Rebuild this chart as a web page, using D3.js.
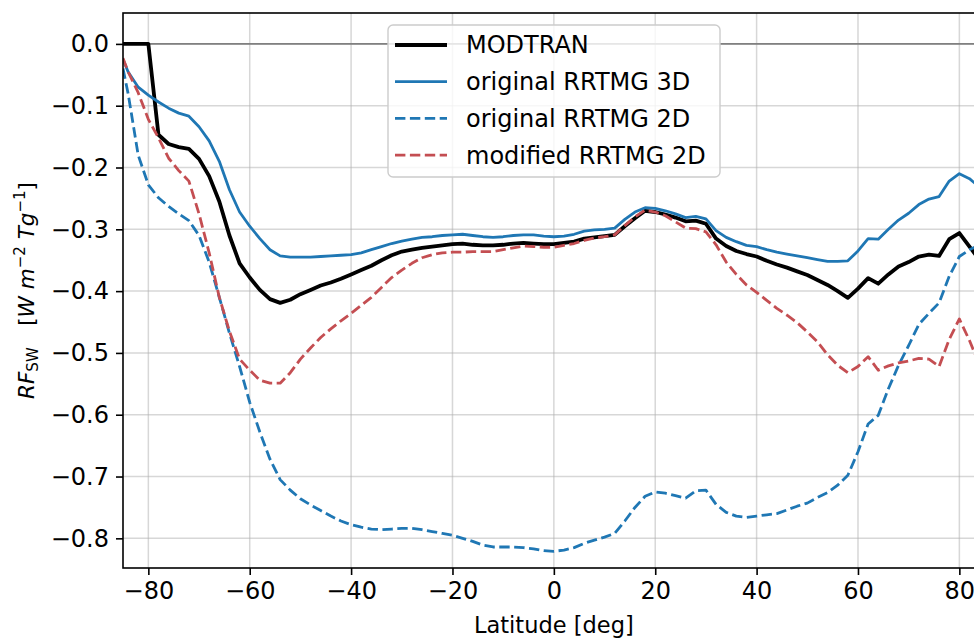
<meta charset="utf-8">
<script src="https://cdn.jsdelivr.net/npm/d3@7"></script>

<style>
    body {
      margin: 0;
      background-color: #ffffff;
      overflow: hidden;
    }
    text {
      font-family: "DejaVu Sans", sans-serif;
      fill: #000;
    }
    .grid line {
      stroke: #b0b0b0;
      stroke-opacity: 0.5;
      stroke-width: 1.5;
    }
</style>

<div id="chart"></div>

<script>
// latitude bins [deg]
var lat = [-85, -84, -82, -80, -78, -76, -74, -72, -70, -68, -66, -64, -62, -60, -58, -56, -54, -52, -50, -48,
  -46, -44, -42, -40, -38, -36, -34, -32, -30, -28, -26, -24, -22, -20, -18, -16, -14, -12, -10, -8,
  -6, -4, -2, 0, 2, 4, 6, 8, 10, 12, 14, 16, 18, 20, 22, 24, 26, 28, 30, 32,
  34, 36, 38, 40, 42, 44, 46, 48, 50, 52, 54, 56, 58, 60, 62, 64, 66, 68, 70, 72,
  74, 76, 78, 80, 82, 84];

var modtran = [0, 0, 0, 0, -0.147, -0.162, -0.167, -0.170, -0.186, -0.214, -0.255, -0.310, -0.355, -0.378, -0.398, -0.413, -0.419, -0.414, -0.405, -0.398,
  -0.391, -0.386, -0.380, -0.373, -0.366, -0.359, -0.350, -0.342, -0.336, -0.333, -0.330, -0.328, -0.326, -0.324, -0.323, -0.325, -0.326, -0.326, -0.325, -0.323,
  -0.322, -0.323, -0.324, -0.324, -0.322, -0.320, -0.315, -0.313, -0.311, -0.309, -0.295, -0.282, -0.270, -0.272, -0.276, -0.281, -0.287, -0.286, -0.291, -0.315,
  -0.327, -0.335, -0.340, -0.344, -0.351, -0.357, -0.362, -0.368, -0.374, -0.382, -0.390, -0.400, -0.411, -0.396, -0.379, -0.388, -0.373, -0.360, -0.353, -0.344,
  -0.341, -0.343, -0.316, -0.306, -0.328, -0.350];

var rrtmg3d = [-0.025, -0.045, -0.070, -0.083, -0.094, -0.104, -0.112, -0.117, -0.134, -0.157, -0.190, -0.236, -0.272, -0.295, -0.315, -0.333, -0.343, -0.345, -0.345, -0.345,
  -0.344, -0.343, -0.342, -0.341, -0.338, -0.333, -0.328, -0.323, -0.319, -0.316, -0.313, -0.312, -0.310, -0.309, -0.308, -0.310, -0.312, -0.313, -0.312, -0.310,
  -0.309, -0.309, -0.311, -0.312, -0.311, -0.308, -0.303, -0.301, -0.300, -0.298, -0.284, -0.272, -0.265, -0.266, -0.270, -0.275, -0.281, -0.279, -0.283, -0.302,
  -0.313, -0.320, -0.326, -0.328, -0.333, -0.337, -0.340, -0.343, -0.346, -0.349, -0.352, -0.352, -0.351, -0.335, -0.315, -0.316, -0.300, -0.285, -0.274, -0.260,
  -0.251, -0.247, -0.222, -0.210, -0.218, -0.232];

var rrtmg2d = [-0.040, -0.080, -0.180, -0.228, -0.249, -0.263, -0.275, -0.286, -0.310, -0.353, -0.410, -0.468, -0.522, -0.580, -0.628, -0.672, -0.705, -0.722, -0.736, -0.746,
  -0.755, -0.764, -0.772, -0.778, -0.782, -0.785, -0.786, -0.785, -0.784, -0.784, -0.786, -0.789, -0.792, -0.795, -0.800, -0.805, -0.811, -0.814, -0.814, -0.814,
  -0.815, -0.817, -0.820, -0.821, -0.819, -0.815, -0.808, -0.803, -0.798, -0.792, -0.772, -0.750, -0.732, -0.725, -0.727, -0.731, -0.735, -0.723, -0.722, -0.745,
  -0.758, -0.764, -0.766, -0.764, -0.762, -0.760, -0.754, -0.748, -0.743, -0.734, -0.726, -0.714, -0.698, -0.660, -0.615, -0.601, -0.558, -0.520, -0.488, -0.454,
  -0.436, -0.419, -0.376, -0.344, -0.333, -0.325];

var modified2d = [-0.023, -0.045, -0.079, -0.122, -0.152, -0.185, -0.205, -0.222, -0.275, -0.338, -0.410, -0.465, -0.510, -0.528, -0.544, -0.549, -0.549, -0.532, -0.510, -0.492,
  -0.475, -0.461, -0.448, -0.436, -0.423, -0.410, -0.394, -0.378, -0.366, -0.355, -0.346, -0.341, -0.338, -0.337, -0.337, -0.336, -0.336, -0.336, -0.333, -0.330,
  -0.327, -0.328, -0.329, -0.329, -0.326, -0.323, -0.318, -0.314, -0.312, -0.309, -0.294, -0.280, -0.269, -0.272, -0.278, -0.288, -0.298, -0.299, -0.304, -0.325,
  -0.353, -0.373, -0.390, -0.402, -0.415, -0.428, -0.439, -0.451, -0.466, -0.482, -0.503, -0.520, -0.532, -0.522, -0.506, -0.528, -0.521, -0.516, -0.513, -0.509,
  -0.510, -0.522, -0.478, -0.445, -0.480, -0.520];

var seriesNames = ["MODTRAN", "original RRTMG 3D", "original RRTMG 2D", "modified RRTMG 2D"];
var xTicks = [-80, -60, -40, -20, 0, 20, 40, 60, 80];
var yTicks = [0.0, -0.1, -0.2, -0.3, -0.4, -0.5, -0.6, -0.7, -0.8];

var series = [
  {name: seriesNames[0], values: modtran,    color: "#000000", width: 3.8, dash: null},
  {name: seriesNames[1], values: rrtmg3d,    color: "#1f77b4", width: 2.8, dash: null},
  {name: seriesNames[2], values: rrtmg2d,    color: "#1f77b4", width: 2.8, dash: "10.4,4.5"},
  {name: seriesNames[3], values: modified2d, color: "#c44e52", width: 2.8, dash: "10.4,4.5"}
];

// the axes run past the right border of the picture (xlim -85..85)
var margin = {top: 13, left: 123},
    width = 861.7,
    height = 555;

var svg = d3.select("#chart")
  .append("svg")
    .attr("width", 974)
    .attr("height", 639);

var g = svg.append("g")
    .attr("transform", "translate(" + margin.left + "," + margin.top + ")");

var x = d3.scaleLinear().domain([-85, 85]).range([0, width]);
var y = d3.scaleLinear().domain([-0.848, 0.050]).range([height, 0]);

svg.append("defs").append("clipPath").attr("id", "plotclip")
  .append("rect").attr("width", width).attr("height", height);

// grid
g.append("g").attr("class", "grid")
  .selectAll("line").data(xTicks).enter().append("line")
    .attr("x1", d => x(d)).attr("x2", d => x(d))
    .attr("y1", 0).attr("y2", height);

g.append("g").attr("class", "grid")
  .selectAll("line").data(yTicks).enter().append("line")
    .attr("y1", d => y(d)).attr("y2", d => y(d))
    .attr("x1", 0).attr("x2", width);

// zero line
g.append("line")
  .attr("x1", 0).attr("x2", width)
  .attr("y1", y(0)).attr("y2", y(0))
  .attr("stroke", "#808080")
  .attr("stroke-width", 1.6);

var line = d3.line()
  .x((d, i) => x(lat[i]))
  .y(d => y(d));

g.append("g").attr("clip-path", "url(#plotclip)")
  .selectAll("path").data(series).enter().append("path")
    .attr("d", d => line(d.values))
    .attr("fill", "none")
    .attr("stroke", d => d.color)
    .attr("stroke-width", d => d.width)
    .attr("stroke-dasharray", d => d.dash)
    .attr("stroke-linejoin", "round");

// axes
var xAxis = g.append("g")
  .attr("transform", "translate(0," + height + ")")
  .call(d3.axisBottom(x).tickValues(xTicks).tickSize(7).tickPadding(7).tickFormat(d3.format("d")));

var yAxis = g.append("g")
  .call(d3.axisLeft(y).tickValues(yTicks).tickSize(7).tickPadding(7).tickFormat(d3.format(".1f")));

[xAxis, yAxis].forEach(function(a) {
  a.select(".domain").remove();
  a.selectAll(".tick line").attr("stroke", "#000").attr("stroke-width", 1.6);
  a.selectAll("text").attr("font-size", 24).attr("font-family", "DejaVu Sans").attr("fill", "#000");
});

// spines
g.append("rect")
  .attr("width", width).attr("height", height)
  .attr("fill", "none")
  .attr("stroke", "#000")
  .attr("stroke-width", 1.6);

// axis labels
svg.append("text")
  .attr("x", margin.left + width / 2)
  .attr("y", 633)
  .attr("text-anchor", "middle")
  .attr("font-size", 22.5)
  .text("Latitude [deg]");

var ylab = svg.append("text")
  .attr("transform", "translate(34," + (margin.top + height / 2) + ") rotate(-90)")
  .attr("text-anchor", "middle")
  .attr("font-size", 21.5);
ylab.append("tspan").attr("font-style", "italic").text("RF");
ylab.append("tspan").attr("font-size", 15).attr("dy", 4).text("SW");
ylab.append("tspan").attr("dy", -4).text("\u2003[");
ylab.append("tspan").attr("font-style", "italic").text("W m");
ylab.append("tspan").attr("font-size", 15).attr("dy", -9).text("\u22122");
ylab.append("tspan").attr("dy", 9).attr("font-style", "italic").text(" Tg");
ylab.append("tspan").attr("font-size", 15).attr("dy", -9).text("\u22121");
ylab.append("tspan").attr("dy", 9).text("]");

// legend
var legend = svg.append("g").attr("transform", "translate(388,25)");
legend.append("rect")
  .attr("width", 332).attr("height", 152)
  .attr("rx", 5)
  .attr("fill", "#fff").attr("fill-opacity", 0.8)
  .attr("stroke", "#cccccc").attr("stroke-width", 1.4);

var item = legend.selectAll(".item").data(series).enter().append("g")
  .attr("transform", (d, i) => "translate(0," + (20 + i * 36.7) + ")");

item.append("line")
  .attr("x1", 7).attr("x2", 59)
  .attr("stroke", d => d.color)
  .attr("stroke-width", d => d.width)
  .attr("stroke-dasharray", d => d.dash);

item.append("text")
  .attr("x", 78)
  .attr("dy", "0.35em")
  .attr("font-size", 24)
  .text(d => d.name);
</script>
